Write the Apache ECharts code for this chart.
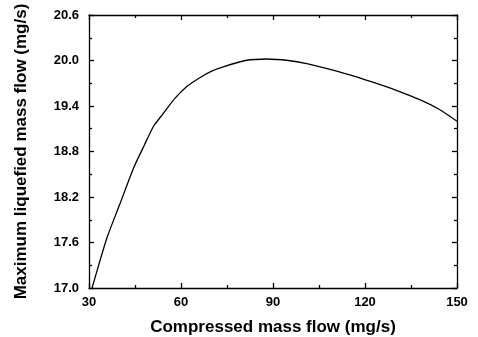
<!DOCTYPE html>
<html><head><meta charset="utf-8">
<script src="https://cdn.jsdelivr.net/npm/echarts@6/dist/echarts.min.js"></script>
<style>html,body{margin:0;padding:0;background:#fff}#c{width:478px;height:337px}</style>
</head><body><div id="c"></div>
<script>
const compressedFlow = [31, 33.5, 36, 40, 44.5, 48, 51, 54, 58, 62, 66, 70, 74, 81, 88, 95, 101, 107, 115, 122, 130, 138, 144, 150];
const liquefiedFlow = [17.0, 17.35, 17.68, 18.1, 18.58, 18.88, 19.13, 19.29, 19.5, 19.66, 19.77, 19.86, 19.92, 20.0, 20.02, 20.0, 19.96, 19.9, 19.81, 19.72, 19.61, 19.48, 19.36, 19.2];
const xTicks = { min: 30, max: 150, interval: 30 };
const yTicks = { min: 17.0, max: 20.6, interval: 0.6 };

const font = 'Liberation Sans, Arial, Helvetica, sans-serif';
const lineStyle = { color: '#000', width: 1.3 };
function xAx(pos, show) {
  return {
    type: 'value', position: pos, min: xTicks.min, max: xTicks.max, interval: xTicks.interval,
    axisLine: { show: true, onZero: false, lineStyle },
    axisTick: { show: true, inside: true, length: 5, lineStyle },
    minorTick: { show: true, splitNumber: 2, length: 3, lineStyle },
    splitLine: { show: false },
    axisLabel: { show: show, color: '#000', fontFamily: font, fontWeight: 'bold', fontSize: 13, margin: 8 },
    name: show ? 'Compressed mass flow (mg/s)' : '', nameLocation: 'middle', nameGap: 31,
    nameTextStyle: { color: '#000', fontFamily: font, fontSize: 17, fontWeight: 'bold' }
  };
}
function yAx(pos, show) {
  return {
    type: 'value', position: pos, min: yTicks.min, max: yTicks.max, interval: yTicks.interval,
    axisLine: { show: true, onZero: false, lineStyle },
    axisTick: { show: true, inside: true, length: 5, lineStyle },
    minorTick: { show: true, splitNumber: 2, length: 3, lineStyle },
    splitLine: { show: false },
    axisLabel: { show: show, color: '#000', fontFamily: font, fontWeight: 'bold', fontSize: 13, margin: 10,
      formatter: v => v.toFixed(1) },
    name: show ? 'Maximum liquefied mass flow (mg/s)' : '', nameLocation: 'middle', nameGap: 59,
    nameTextStyle: { color: '#000', fontFamily: font, fontSize: 17, fontWeight: 'bold' }
  };
}
const chart = echarts.init(document.getElementById('c'), null, { renderer: 'canvas' });
chart.setOption({
  animation: false,
  backgroundColor: '#fff',
  grid: { left: 89, right: 21, top: 15, bottom: 49, containLabel: false, outerBoundsMode: 'none' },
  xAxis: [xAx('bottom', true), xAx('top', false)],
  yAxis: [yAx('left', true), yAx('right', false)],
  series: [{
    type: 'line', xAxisIndex: 0, yAxisIndex: 0, showSymbol: false, smooth: 0.2,
    lineStyle: { color: '#000', width: 1.3 },
    data: compressedFlow.map((x, i) => [x, liquefiedFlow[i]])
  }]
});
</script></body></html>
